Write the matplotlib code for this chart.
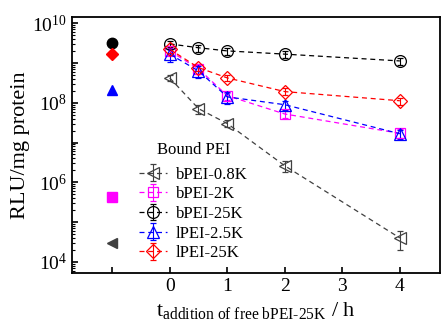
import numpy as np
import matplotlib
matplotlib.use("Agg")
import matplotlib.pyplot as plt
from matplotlib.ticker import LogLocator, FixedLocator, FixedFormatter, NullFormatter

plt.rcParams["font.family"] = ["Liberation Serif", "DejaVu Serif"]
plt.rcParams["mathtext.fontset"] = "custom"
plt.rcParams["mathtext.rm"] = "Liberation Serif"
plt.rcParams["mathtext.it"] = "Liberation Serif:italic"

# === data ===
t = [0, 0.5, 1, 2, 4]
t_ctrl = -1

names = ["bPEI-0.8K", "bPEI-2K", "bPEI-25K", "lPEI-2.5K", "lPEI-25K"]
bpei_08k = [4.2e8, 7.1e7, 3.0e7, 2.6e6, 4.0e4]
bpei_2k = [2.0e9, 7.1e8, 1.5e8, 5.2e7, 1.7e7]
bpei_25k = [3.0e9, 2.4e9, 2.0e9, 1.66e9, 1.12e9]
lpei_25k_small = [1.66e9, 6.3e8, 1.4e8, 8.9e7, 1.66e7]
lpei_25k = [2.2e9, 7.6e8, 4.2e8, 1.9e8, 1.12e8]
controls = [3.0e4, 4.2e5, 3.2e9, 2.1e8, 1.66e9]

# relative errors (fraction of value)
err_rel = [
    [0.15, 0.25, 0.2, 0.3, 0.5],
    [0.2, 0.25, 0.2, 0.2, 0.25],
    [0.15, 0.2, 0.2, 0.2, 0.2],
    [0.35, 0.35, 0.35, 0.25, 0.25],
    [0.2, 0.2, 0.15, 0.2, 0.2],
]

series = [bpei_08k, bpei_2k, bpei_25k, lpei_25k_small, lpei_25k]
colors = ["#404040", "#ff00ff", "black", "#0000ff", "#ff0000"]
markers = ["<", "s", "o", "^", "D"]
msizes = [8.5, 7.5, 8.5, 8.5, 7.5]

fig = plt.figure(figsize=(4.41, 3.29), dpi=100)
ax = fig.add_axes([0.163, 0.170, 0.835, 0.778])

for y, c, m, ms, e, name, yc in zip(series, colors, markers, msizes, err_rel, names, controls):
    y = np.array(y)
    ax.errorbar(t, y, yerr=y * np.array(e), color=c, marker=m, ms=ms, mfc="none",
                mec=c, mew=0.9, ls=(0, (4, 3)), lw=0.9, elinewidth=0.8, capsize=2,
                label=name)
    ax.plot([t_ctrl], [yc], marker=m, ms=ms - 1, color=c, ls="none")

ax.set_yscale("log")
ax.set_xlim(-1.7, 4.7)
ax.set_ylim(10**3.72, 10**10.15)

ax.xaxis.set_major_locator(FixedLocator([-1, 0, 1, 2, 3, 4]))
ax.xaxis.set_major_formatter(FixedFormatter(["", "0", "1", "2", "3", "4"]))
ax.yaxis.set_major_locator(FixedLocator([1e4, 1e5, 1e6, 1e7, 1e8, 1e9, 1e10]))
ax.yaxis.set_major_formatter(FixedFormatter(["$10^{4}$", "", "$10^{6}$", "", "$10^{8}$", "", "$10^{10}$"]))
ax.yaxis.set_minor_locator(LogLocator(base=10, subs=np.arange(2, 10), numticks=20))
ax.yaxis.set_minor_formatter(NullFormatter())

ax.tick_params(axis="both", which="both", direction="in", top=False, right=False)
ax.tick_params(axis="both", which="major", length=4, width=1.2, labelsize=14)
ax.tick_params(axis="y", which="minor", length=2.5, width=0.8)
for s in ax.spines.values():
    s.set_linewidth(1.3)

ax.set_ylabel("RLU/mg protein", fontsize=16, labelpad=2)
ax.set_xlabel(r"$\mathregular{t_{addition\ of\ free\ bPEI\text{-}25K}}$ / h", fontsize=16, labelpad=4)

leg = ax.legend(loc="upper left", bbox_to_anchor=(0.155, 0.55), frameon=False,
                title="Bound PEI", fontsize=12, title_fontsize=12,
                handlelength=1.7, handletextpad=0.5, labelspacing=0.22,
                borderpad=0.1)
leg._legend_box.sep = 6

fig.savefig("out.png", dpi=100)
